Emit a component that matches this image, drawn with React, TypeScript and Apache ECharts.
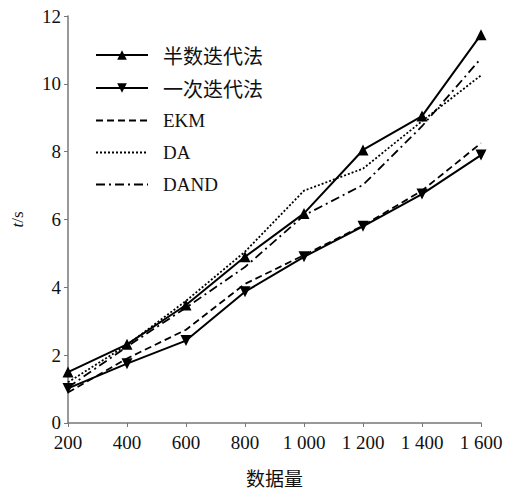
import React, { useEffect, useRef } from "react";
import * as echarts from "echarts";

const xValues = [200, 400, 600, 800, 1000, 1200, 1400, 1600];
const halfIter = [1.5, 2.32, 3.48, 4.9, 6.18, 8.05, 9.05, 11.45];
const onceIter = [1.02, 1.75, 2.43, 3.87, 4.9, 5.8, 6.75, 7.9];
const ekm = [0.9, 1.9, 2.75, 4.1, 4.95, 5.82, 6.85, 8.25];
const da = [1.2, 2.3, 3.6, 5.05, 6.85, 7.5, 8.9, 10.25];
const dand = [1.05, 2.25, 3.4, 4.6, 6.12, 7.02, 8.75, 10.75];
const seriesNames = ["半数迭代法", "一次迭代法", "EKM", "DA", "DAND"];

const serif = "Liberation Serif";
const cjk = "Noto Sans CJK SC";

function fmtThousands(v: number): string {
  const s = String(v);
  if (s.length > 3) return s.slice(0, s.length - 3) + " " + s.slice(s.length - 3);
  return s;
}

export default function App() {
  const ref = useRef<HTMLDivElement>(null);
  useEffect(() => {
    if (!ref.current) return;
    const chart = echarts.init(ref.current, undefined, { renderer: "svg" });
    const pair = (arr: number[]) => xValues.map((x, i) => [x, arr[i]]);
    const base = {
      type: "line",
      symbol: "none",
      color: "#000",
    };
    const legendData = seriesNames.map((n, i) =>
      i < 2
        ? { name: n }
        : { name: n, itemStyle: { color: "rgba(0,0,0,0)", borderWidth: 0, opacity: 0 } }
    );
    chart.setOption({
      animation: false,
      backgroundColor: "#fff",
      grid: { left: 68, right: 34, top: 16, bottom: 61 },
      legend: {
        orient: "vertical",
        left: 90,
        top: 40,
        itemWidth: 52,
        itemHeight: 12,
        itemGap: 13,
        data: legendData,
        formatter: (n: string) => (/[A-Z]/.test(n) ? `{en|${n}}` : `{cn|${n}}`),
        textStyle: {
          color: "#111",
          padding: [0, 0, 0, 10],
          rich: {
            cn: { fontFamily: cjk, fontSize: 20, color: "#111", height: 20 },
            en: { fontFamily: serif, fontSize: 19, color: "#111", height: 20 },
          },
        },
      },
      xAxis: {
        type: "value",
        min: 200,
        max: 1600,
        interval: 200,
        name: "数据量",
        nameLocation: "middle",
        nameGap: 45,
        nameTextStyle: { fontFamily: cjk, fontSize: 19, color: "#111" },
        axisLine: { lineStyle: { color: "#777", width: 1.5 } },
        axisTick: { show: true, length: 4, lineStyle: { color: "#777" } },
        axisLabel: {
          fontFamily: serif,
          fontSize: 19,
          color: "#111",
          margin: 10,
          formatter: (v: number) => fmtThousands(v),
        },
        splitLine: { show: false },
      },
      yAxis: {
        type: "value",
        min: 0,
        max: 12,
        interval: 2,
        name: "{i|t}/s",
        nameLocation: "middle",
        nameGap: 42,
        nameRotate: 90,
        nameTextStyle: {
          fontFamily: serif,
          fontSize: 17,
          color: "#111",
          rich: { i: { fontFamily: serif, fontStyle: "italic", fontSize: 17, color: "#111" } },
        },
        axisLine: { show: true, lineStyle: { color: "#777", width: 1.5 } },
        axisTick: { show: true, length: 4, lineStyle: { color: "#777" } },
        axisLabel: { fontFamily: serif, fontSize: 19, color: "#111", margin: 7 },
        splitLine: { show: false },
      },
      series: [
        {
          ...base,
          name: seriesNames[0],
          data: pair(halfIter),
          symbol: "triangle",
          symbolSize: 11,
          itemStyle: { color: "#000" },
          lineStyle: { color: "#000", width: 2 },
          z: 5,
        },
        {
          ...base,
          name: seriesNames[1],
          data: pair(onceIter),
          symbol: "triangle",
          symbolRotate: 180,
          symbolSize: 11,
          itemStyle: { color: "#000" },
          lineStyle: { color: "#000", width: 2 },
          z: 5,
        },
        {
          ...base,
          name: seriesNames[2],
          data: pair(ekm),
          itemStyle: { color: "#000" },
          lineStyle: { color: "#000", width: 1.8, type: [7, 4] },
        },
        {
          ...base,
          name: seriesNames[3],
          data: pair(da),
          itemStyle: { color: "#000" },
          lineStyle: { color: "#000", width: 1.8, type: [2, 2] },
        },
        {
          ...base,
          name: seriesNames[4],
          data: pair(dand),
          itemStyle: { color: "#000" },
          lineStyle: { color: "#000", width: 1.8, type: [9, 4, 2, 4] },
        },
      ],
    });
    return () => chart.dispose();
  }, []);
  return <div ref={ref} style={{ width: 515, height: 492, position: "absolute", left: 0, top: 0 }} />;
}
